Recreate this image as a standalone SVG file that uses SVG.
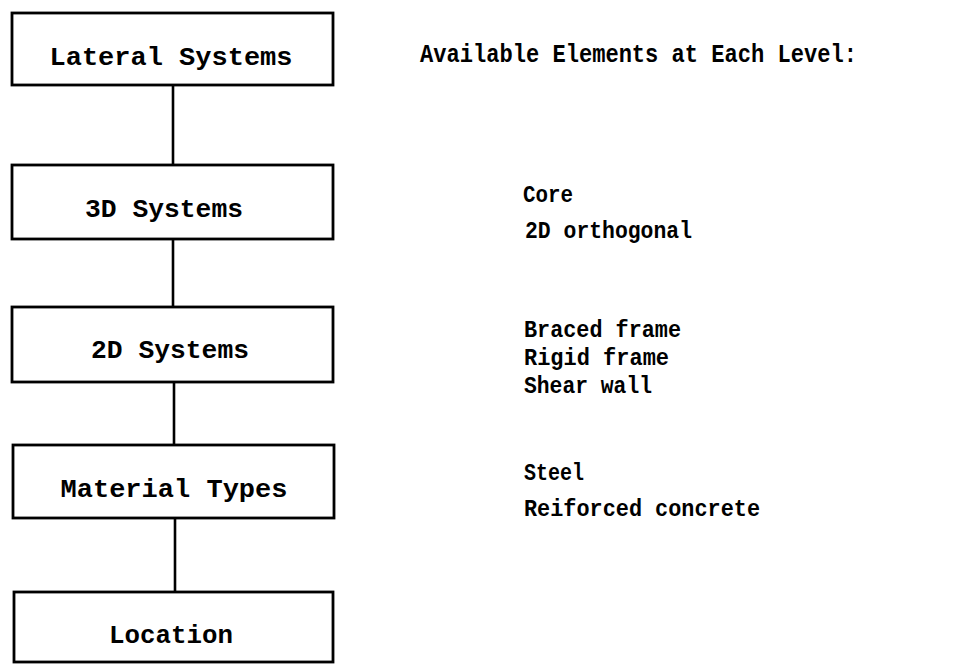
<svg xmlns="http://www.w3.org/2000/svg" width="978" height="664" viewBox="0 0 978 664">
<style>
.box{fill:#fff;stroke:#000;stroke-width:2.8}
.conn{stroke:#000;stroke-width:2.6;fill:none}
.lbl{font-family:"Liberation Mono","DejaVu Sans Mono",monospace;font-weight:bold;font-size:25px;fill:#000;text-anchor:middle}
.item{font-family:"Liberation Mono","DejaVu Sans Mono",monospace;font-weight:bold;font-size:24px;fill:#000}
.hdr{font-family:"Liberation Mono","DejaVu Sans Mono",monospace;font-weight:bold;font-size:25px;fill:#000}
</style>
<rect width="978" height="664" fill="#fff"/>
<g id="connectors">
<line class="conn" x1="173" y1="86" x2="173" y2="165"/>
<line class="conn" x1="173" y1="239" x2="173" y2="307"/>
<line class="conn" x1="174" y1="382" x2="174" y2="445"/>
<line class="conn" x1="175" y1="518" x2="175" y2="592"/>
</g>
<g id="lateral-systems">
<rect class="box" x="12" y="13" width="321" height="72"/>
<text class="lbl" x="171" y="65" textLength="243" lengthAdjust="spacingAndGlyphs">Lateral Systems</text>
</g>
<g id="systems-3d">
<rect class="box" x="12" y="165" width="321" height="74"/>
<text class="lbl" x="164" y="217" textLength="158" lengthAdjust="spacingAndGlyphs">3D Systems</text>
</g>
<g id="systems-2d">
<rect class="box" x="12" y="307" width="321" height="75"/>
<text class="lbl" x="170" y="358" textLength="158" lengthAdjust="spacingAndGlyphs">2D Systems</text>
</g>
<g id="material-types">
<rect class="box" x="13" y="445" width="321" height="73"/>
<text class="lbl" x="174" y="497" textLength="227" lengthAdjust="spacingAndGlyphs">Material Types</text>
</g>
<g id="location">
<rect class="box" x="14" y="592" width="319" height="70"/>
<text class="lbl" x="171" y="643" textLength="124" lengthAdjust="spacingAndGlyphs">Location</text>
</g>
<g id="elements">
<text class="hdr" x="420" y="62" textLength="437" lengthAdjust="spacingAndGlyphs">Available Elements at Each Level:</text>
<text class="item" x="523" y="202" textLength="50" lengthAdjust="spacingAndGlyphs">Core</text>
<text class="item" x="525" y="238" textLength="167" lengthAdjust="spacingAndGlyphs">2D orthogonal</text>
<text class="item" x="524" y="337" textLength="157" lengthAdjust="spacingAndGlyphs">Braced frame</text>
<text class="item" x="524" y="365" textLength="145" lengthAdjust="spacingAndGlyphs">Rigid frame</text>
<text class="item" x="524" y="393" textLength="128" lengthAdjust="spacingAndGlyphs">Shear wall</text>
<text class="item" x="524" y="480" textLength="60" lengthAdjust="spacingAndGlyphs">Steel</text>
<text class="item" x="524" y="516" textLength="236" lengthAdjust="spacingAndGlyphs">Reiforced concrete</text>
</g>
</svg>
